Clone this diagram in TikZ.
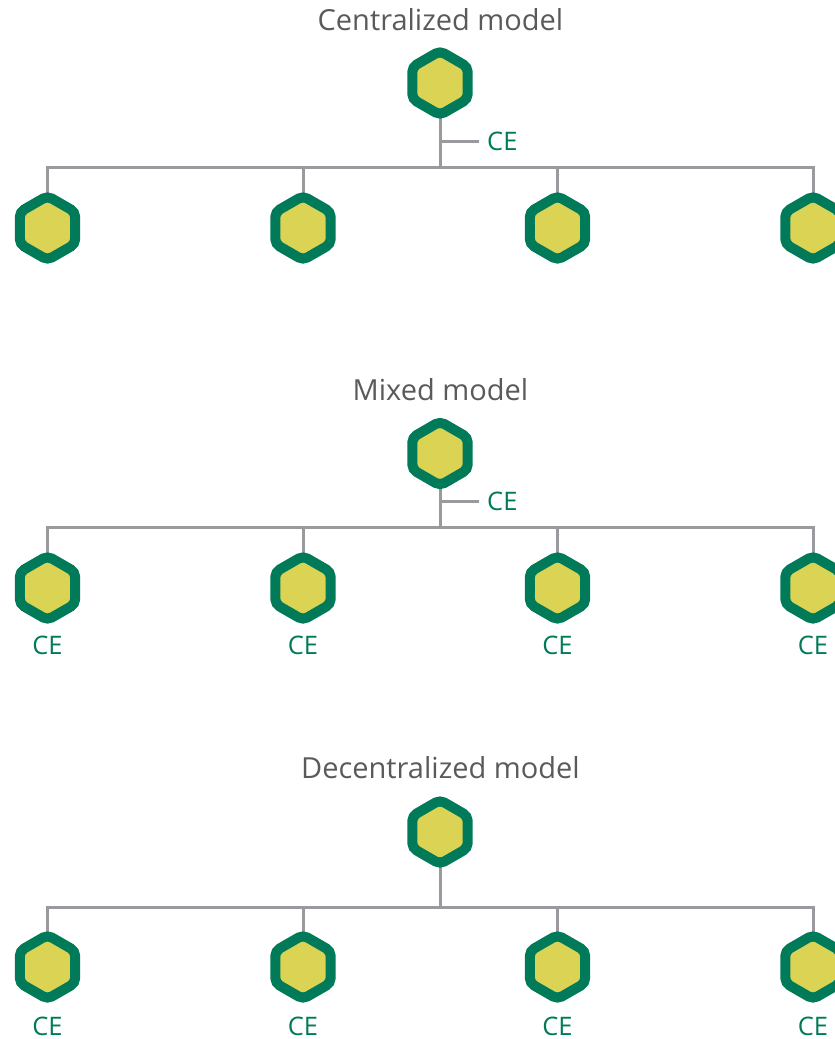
\documentclass[tikz,border=0pt]{standalone}
\usepackage{fontspec}
\setmainfont{Open Sans}
\usetikzlibrary{shapes.geometric,backgrounds}
\definecolor{hexgreen}{RGB}{0,122,88}
\definecolor{hexyellow}{RGB}{218,211,84}
\definecolor{linegray}{RGB}{153,153,158}
\definecolor{titlegray}{RGB}{90,90,90}
\begin{document}
\begin{tikzpicture}[x=1pt,y=-1pt,
  hexnode/.style={regular polygon, regular polygon sides=6, shape border rotate=30,
    minimum size=64pt, inner sep=0pt, draw=hexgreen, fill=hexyellow,
    line width=10pt, rounded corners=5pt},
  conn/.style={draw=linegray, line width=3pt},
  titletext/.style={text=titlegray, font=\fontsize{29}{35}\selectfont, inner sep=0pt, anchor=base},
  cetext/.style={text=hexgreen, font=\fontsize{25.5}{30}\selectfont, inner sep=0pt},
  cebranch/.style={cetext, anchor=west, inner xsep=8pt}]
\useasboundingbox (0,0) rectangle (835,1039);

% ---- Centralized model
\node[titletext] (title1) at (440.5,30) {Centralized model};
\node[hexnode] (t1) at (440,83) {};
\coordinate (bar1) at (0,167);
\node[cebranch] (ce1) at (479,141.5) {CE};
\foreach \i/\x in {1/47.5,2/303,3/557.5,4/813}
  \node[hexnode] (r1c\i) at (\x,228) {};

% ---- Mixed model
\node[titletext] (title2) at (440.5,400) {Mixed model};
\node[hexnode] (t2) at (440,453.5) {};
\coordinate (bar2) at (0,527);
\node[cebranch] (ce2) at (479,501.5) {CE};
\foreach \i/\x in {1/47.5,2/303,3/557.5,4/813}{
  \node[hexnode] (r2c\i) at (\x,588) {};
  \node[cetext, anchor=base] (l2c\i) at (\x,654) {CE};
}

% ---- Decentralized model
\node[titletext] (title3) at (440.5,778) {Decentralized model};
\node[hexnode] (t3) at (440,832) {};
\coordinate (bar3) at (0,907);
\foreach \i/\x in {1/47.5,2/303,3/557.5,4/813}{
  \node[hexnode] (r3c\i) at (\x,967) {};
  \node[cetext, anchor=base] (l3c\i) at (\x,1035) {CE};
}

\begin{scope}[on background layer]
  \foreach \r in {1,2,3}{
    \foreach \i in {1,2,3,4}
      \draw[conn] (t\r.center) -- (t\r.center |- bar\r) -| (r\r c\i.center);
  }
  \draw[conn] (t1.center |- ce1.west) -- (ce1.west);
  \draw[conn] (t2.center |- ce2.west) -- (ce2.west);
\end{scope}
\end{tikzpicture}
\end{document}
